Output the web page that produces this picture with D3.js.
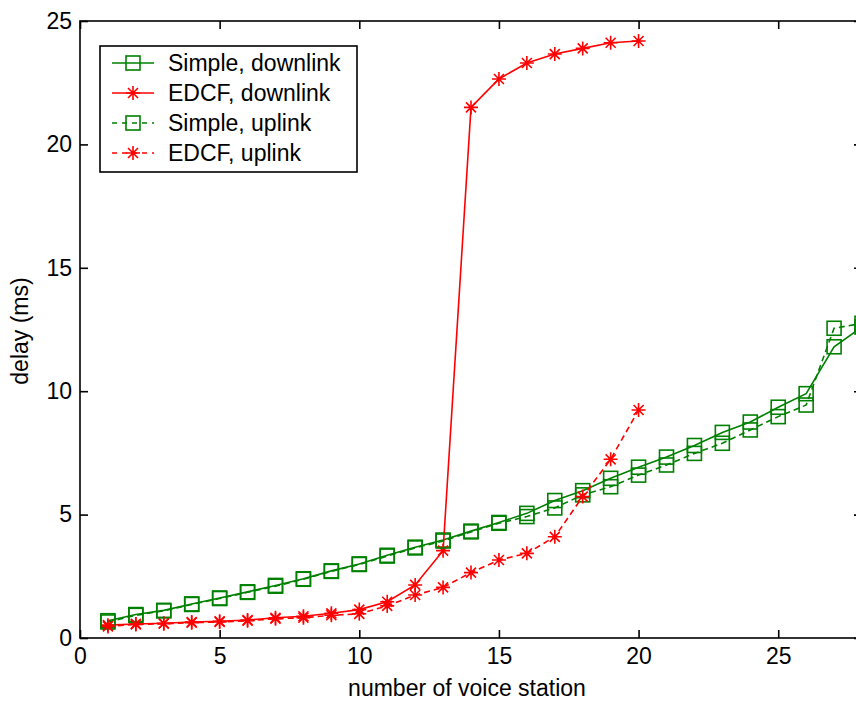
<!DOCTYPE html>
<html><head><meta charset="utf-8">
<script src="https://cdn.jsdelivr.net/npm/d3@7"></script>
<style>
html,body{margin:0;padding:0;background:#fff;}
svg{display:block;font-family:"Liberation Sans",Arial,sans-serif;}
</style></head>
<body><svg id="chart" width="856" height="704"></svg>
<script>
const stations = d3.range(1, 29);
const simpleDownlink = [0.70,0.95,1.12,1.38,1.62,1.87,2.13,2.40,2.72,3.00,3.35,3.68,3.97,4.33,4.68,5.05,5.57,5.97,6.47,6.92,7.33,7.80,8.33,8.75,9.35,9.90,11.80,12.60];
const simpleUplink   = [0.65,0.92,1.10,1.36,1.60,1.85,2.10,2.38,2.70,2.98,3.32,3.65,3.93,4.30,4.65,4.92,5.27,5.80,6.13,6.60,7.01,7.48,7.89,8.43,8.97,9.44,12.55,12.75];
const edcfStations = d3.range(1, 21);
const edcfDownlink = [0.52,0.57,0.60,0.65,0.68,0.73,0.82,0.88,1.00,1.15,1.47,2.15,3.54,21.5,22.65,23.3,23.66,23.89,24.12,24.19];
const edcfUplink   = [0.47,0.55,0.58,0.62,0.65,0.70,0.78,0.82,0.92,0.98,1.30,1.74,2.05,2.65,3.16,3.43,4.10,5.73,7.24,9.24];
const xTicks = [0,5,10,15,20,25];
const yTicks = [0,5,10,15,20,25];
const legendLabels = ["Simple, downlink","EDCF, downlink","Simple, uplink","EDCF, uplink"];

const GREEN = "#008000", RED = "#ff0000";
const svg = d3.select("#chart");
const x = d3.scaleLinear().domain([0,28]).range([80,862]);
const y = d3.scaleLinear().domain([0,25]).range([638,21]);

const series = [
  {name: legendLabels[0], xs: stations, ys: simpleDownlink, color: GREEN, dash: null, marker: "square"},
  {name: legendLabels[1], xs: edcfStations, ys: edcfDownlink, color: RED, dash: null, marker: "star"},
  {name: legendLabels[2], xs: stations, ys: simpleUplink, color: GREEN, dash: "6,4", marker: "square"},
  {name: legendLabels[3], xs: edcfStations, ys: edcfUplink, color: RED, dash: "6,4", marker: "star"}
];

function drawMarker(g, type, cx, cy, color) {
  if (type === "square") {
    g.append("rect").attr("x", cx-7).attr("y", cy-7).attr("width", 14).attr("height", 14)
      .attr("fill", "none").attr("stroke", color).attr("stroke-width", 1.6);
  } else {
    const r = 7, d = 5;
    const p = `M${cx-r},${cy}L${cx+r},${cy}M${cx},${cy-r}L${cx},${cy+r}M${cx-d},${cy-d}L${cx+d},${cy+d}M${cx-d},${cy+d}L${cx+d},${cy-d}`;
    g.append("path").attr("d", p).attr("stroke", color).attr("stroke-width", 1.6).attr("fill", "none");
  }
}

// axes (ticks inward, box)
const fontSize = 23;
const axB = svg.append("g").attr("transform","translate(0,638)")
  .call(d3.axisBottom(x).tickValues(xTicks).tickSizeInner(-8).tickSizeOuter(0).tickPadding(10));
const axL = svg.append("g").attr("transform","translate(80,0)")
  .call(d3.axisLeft(y).tickValues(yTicks).tickSizeInner(-8).tickSizeOuter(0).tickPadding(8));
const axT = svg.append("g").attr("transform","translate(0,21)")
  .call(d3.axisTop(x).tickValues(xTicks).tickSizeInner(-8).tickSizeOuter(0).tickFormat(""));
const axR = svg.append("g").attr("transform","translate(862,0)")
  .call(d3.axisRight(y).tickValues(yTicks).tickSizeInner(-8).tickSizeOuter(0).tickFormat(""));
[axB, axL, axT, axR].forEach(a => {
  a.select(".domain").remove();
  a.selectAll(".tick line").attr("stroke","#000").attr("stroke-width",1.6);
  a.selectAll(".tick text").attr("fill","#000").attr("font-size",fontSize)
    .attr("font-family","Liberation Sans, Arial, sans-serif");
});
svg.append("rect").attr("x",x(0)).attr("y",y(25)).attr("width",x(28)-x(0)).attr("height",y(0)-y(25))
  .attr("fill","none").attr("stroke","#000").attr("stroke-width",1.6);

// data
const line = d3.line().x(d => x(d[0])).y(d => y(d[1]));
series.forEach(s => {
  const pts = s.xs.map((v,i) => [v, s.ys[i]]);
  svg.append("path").attr("d", line(pts)).attr("fill","none").attr("stroke", s.color)
    .attr("stroke-width", 1.6).attr("stroke-dasharray", s.dash);
  const g = svg.append("g");
  pts.forEach(p => drawMarker(g, s.marker, x(p[0]), y(p[1]), s.color));
});

// labels
svg.append("text").attr("x", 467).attr("y", 696).attr("text-anchor","middle")
  .attr("font-size", fontSize).attr("fill","#000").text("number of voice station");
svg.append("text").attr("transform","translate(28,331) rotate(-90)").attr("text-anchor","middle")
  .attr("font-size", fontSize).attr("fill","#000").text("delay (ms)");

// legend
const lg = svg.append("g");
lg.append("rect").attr("x",100).attr("y",46).attr("width",257).attr("height",126)
  .attr("fill","#fff").attr("stroke","#000").attr("stroke-width",1.6);
series.forEach((s,i) => {
  const cy = 63 + i*30;
  lg.append("line").attr("x1",112).attr("x2",154).attr("y1",cy).attr("y2",cy)
    .attr("stroke", s.color).attr("stroke-width",1.6).attr("stroke-dasharray", s.dash ? "5,5" : null);
  drawMarker(lg, s.marker, 133, cy, s.color);
  lg.append("text").attr("x",168).attr("y",cy).attr("dy","0.35em").attr("font-size",fontSize)
    .attr("fill","#000").text(s.name);
});
</script></body></html>
